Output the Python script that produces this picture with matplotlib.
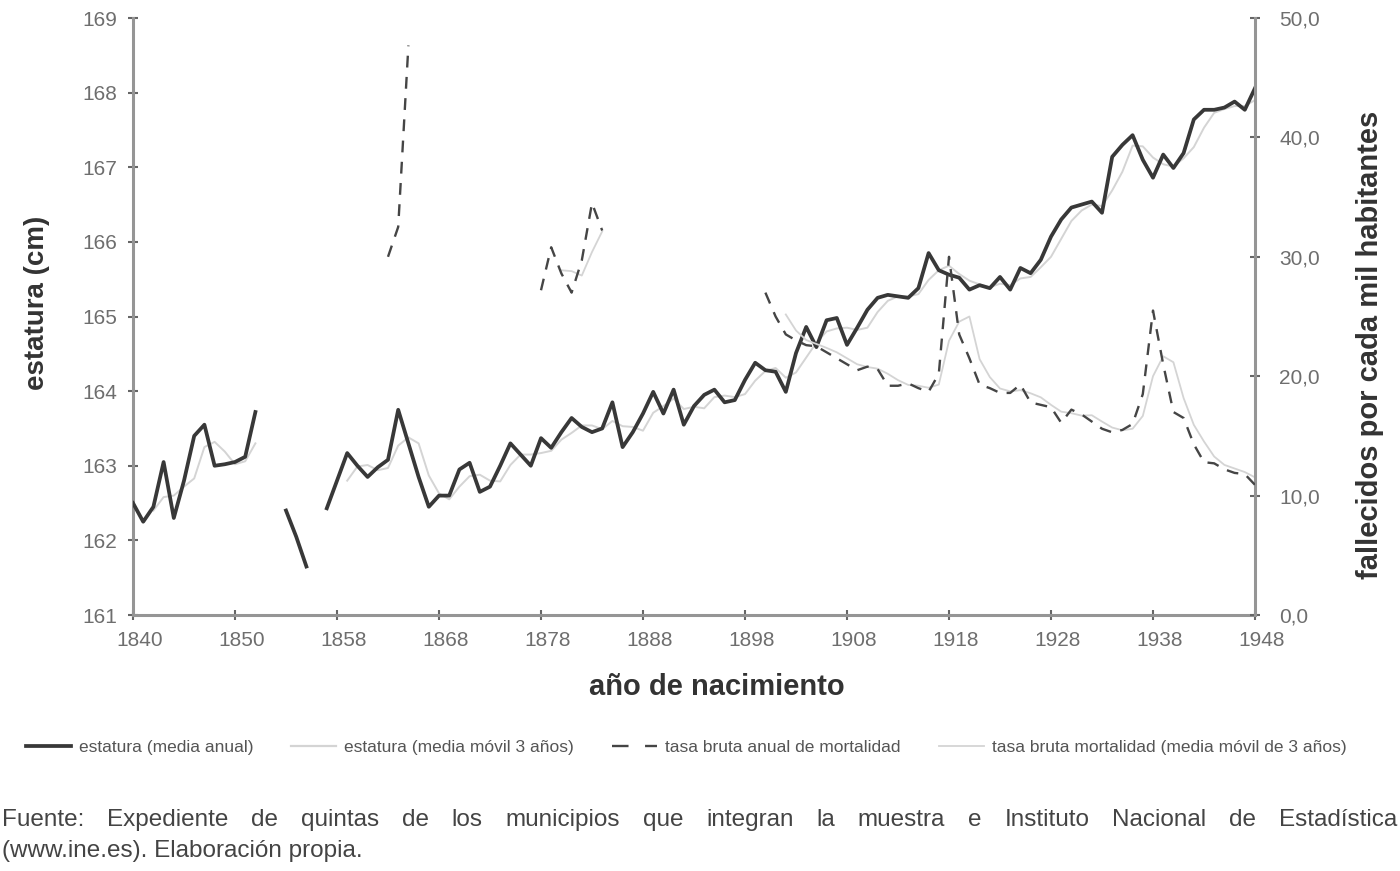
import numpy as np
import matplotlib
matplotlib.use("Agg")
from matplotlib import pyplot as plt
from matplotlib.lines import Line2D
import matplotlib.transforms as mtransforms

plt.rcParams['font.family'] = ['Liberation Sans', 'DejaVu Sans']

# eje x: una categoria por posicion, etiqueta cada 10 posiciones
x_labels = ['1840', '1850', '1858', '1868', '1878', '1888', '1898',
            '1908', '1918', '1928', '1938', '1948']
n_pos = 111

# estatura media anual (cm), tramos con huecos
est_1 = [162.5, 162.25, 162.45, 163.05, 162.3, 162.8, 163.4, 163.55, 163.0,
         163.02, 163.05, 163.12, 163.72]                      # pos 0-12
est_2 = [162.4, 162.05, 161.65]                                # pos 15-17
est_3 = [162.43, 162.8, 163.17, 163.0, 162.85, 162.98, 163.08, 163.75, 163.3,
         162.85, 162.45, 162.6, 162.6, 162.95, 163.04, 162.65, 162.72, 163.0,
         163.3, 163.15, 163.0, 163.37, 163.24, 163.45, 163.64, 163.52, 163.45,
         163.5, 163.85, 163.25, 163.45, 163.7, 163.99, 163.7, 164.02, 163.55,
         163.8, 163.95, 164.02, 163.85, 163.88, 164.15, 164.38, 164.28, 164.26,
         163.99, 164.51, 164.86, 164.59, 164.95, 164.98, 164.62, 164.85, 165.09,
         165.25, 165.29, 165.27, 165.25, 165.38, 165.85, 165.62, 165.56, 165.52,
         165.36, 165.42, 165.38, 165.53, 165.36, 165.65, 165.58, 165.76, 166.07,
         166.3, 166.46, 166.5, 166.54, 166.39, 167.14, 167.3, 167.43, 167.1,
         166.86, 167.17, 166.99, 167.19, 167.64, 167.77, 167.77, 167.8, 167.88,
         167.77, 168.06]                                        # pos 19-110

# estatura media movil 3 anos
mm_1 = [162.4, 162.58, 162.6, 162.72, 162.83, 163.25, 163.32, 163.19, 163.02,
        163.06, 163.3]                                          # pos 2-12
mm_3 = [162.8, 162.99, 163.01, 162.94, 162.97, 163.27, 163.38, 163.3, 162.87,
        162.63, 162.55, 162.72, 162.86, 162.88, 162.8, 162.79, 163.01, 163.15,
        163.15, 163.17, 163.2, 163.35, 163.44, 163.54, 163.54, 163.49, 163.6,
        163.53, 163.52, 163.47, 163.71, 163.8, 163.9, 163.76, 163.79, 163.77,
        163.92, 163.94, 163.92, 163.96, 164.14, 164.27, 164.31, 164.18, 164.25,
        164.45, 164.65, 164.8, 164.84, 164.85, 164.82, 164.85, 165.06, 165.21,
        165.27, 165.27, 165.3, 165.49, 165.62, 165.68, 165.57, 165.48, 165.43,
        165.39, 165.44, 165.42, 165.51, 165.53, 165.66, 165.8, 166.04, 166.28,
        166.42, 166.5, 166.48, 166.69, 166.94, 167.29, 167.28, 167.13, 167.04,
        167.01, 167.12, 167.27, 167.53, 167.73, 167.78, 167.82, 167.82,
        167.9]                                                  # pos 21-110

# tasa bruta anual de mortalidad (por mil)
mort_1 = [30.0, 32.5, 47.7]                                     # pos 25-27
mort_2 = [27.2, 30.8, 28.6, 27.0, 29.7, 34.5, 32.2]             # pos 40-46
mort_3 = [27.0, 25.0, 23.5, 23.0, 22.6, 22.5, 22.0, 21.5, 21.0, 20.5, 20.8,
          20.6, 19.2, 19.2, 19.4, 19.0, 18.7, 20.2, 30.0, 23.5, 21.5, 19.3,
          19.0, 18.6, 18.6, 19.3, 17.8, 17.6, 17.4, 16.1, 17.2, 16.8, 16.2,
          15.6, 15.3, 15.5, 16.0, 18.5, 25.5, 21.0, 17.0, 16.5, 14.3, 12.8,
          12.7, 12.2, 11.9, 11.8, 10.9]                         # pos 62-110

# tasa bruta mortalidad media movil 3 anos
mortmm_2 = [28.87, 28.8, 28.43, 30.4, 32.13]                    # pos 42-46
mortmm_3 = [25.17, 23.83, 23.03, 22.7, 22.37, 22.0, 21.5, 21.0, 20.77, 20.63,
            20.2, 19.67, 19.27, 19.2, 19.03, 19.3, 22.97, 24.57, 25.0, 21.43,
            19.93, 18.97, 18.73, 18.83, 18.57, 18.23, 17.6, 17.03, 16.9, 16.7,
            16.73, 16.2, 15.7, 15.47, 15.6, 16.67, 20.0, 21.67, 21.17, 18.17,
            15.93, 14.53, 13.27, 12.57, 12.27, 11.97, 11.53]    # pos 64-110


def serie(tramos):
    y = np.full(n_pos, np.nan)
    for start, vals in tramos:
        y[start:start + len(vals)] = vals
    return y


x = np.arange(n_pos)
estatura = serie([(0, est_1), (15, est_2), (19, est_3)])
estatura_mm = serie([(2, mm_1), (21, mm_3)])
mortalidad = serie([(25, mort_1), (40, mort_2), (62, mort_3)])
mortalidad_mm = serie([(42, mortmm_2), (64, mortmm_3)])

c_dark = '#383838'
c_light = '#d4d4d4'
c_axis = '#959595'
c_tick = '#6e6e6e'

fig = plt.figure(figsize=(14, 8.71), dpi=100)
ax = fig.add_axes([133 / 1400, 1 - 615 / 871, 1122 / 1400, 597 / 871])
ax2 = ax.twinx()

ax.plot(x, estatura_mm, color=c_light, lw=1.4, zorder=2)
ax.plot(x, estatura, color=c_dark, lw=2.7, zorder=3)
ax2.plot(x, mortalidad_mm, color=c_light, lw=1.3, zorder=2)
ax2.plot(x, mortalidad, color='#454545', lw=1.7, dashes=(5, 4), zorder=3)

ax.set_xlim(0, n_pos - 1)
ax.set_ylim(161, 169)
ax2.set_ylim(0, 50)
ax.set_xticks(np.arange(0, n_pos, 10))
ax.set_xticklabels(x_labels)
ax.set_yticks(range(161, 170))
ax2.set_yticks(range(0, 51, 10))
ax2.set_yticklabels([f'{v},0' for v in range(0, 51, 10)])

for a in (ax, ax2):
    a.spines['top'].set_visible(False)
    for s in ('left', 'right', 'bottom'):
        a.spines[s].set_color(c_axis)
        a.spines[s].set_linewidth(2.2)
    a.tick_params(direction='inout', length=7, width=1.5, color='#666666',
                  labelcolor=c_tick, labelsize=15)
ax.spines['right'].set_visible(False)
ax2.spines['left'].set_visible(False)
ax2.spines['bottom'].set_visible(False)
ax.tick_params(axis='y', pad=8)
ax.tick_params(axis='x', pad=8)
ax2.tick_params(axis='y', pad=14)

# desplazar etiquetas del eje x un poco a la derecha
shift = mtransforms.ScaledTranslation(7 / 100, 0, fig.dpi_scale_trans)
for lab in ax.get_xticklabels():
    lab.set_transform(lab.get_transform() + shift)

ax.set_xlabel('año de nacimiento', fontsize=21, fontweight='bold',
              color='#333333')
ax.xaxis.set_label_coords(0.52, -0.097)
ax.set_ylabel('estatura (cm)', fontsize=20, fontweight='bold',
              color='#333333')
ax.yaxis.set_label_coords(-0.074, 0.523)
ax2.set_ylabel('fallecidos por cada mil habitantes', fontsize=21,
               fontweight='bold', color='#333333')
ax2.yaxis.set_label_coords(1.09, 0.452)

handles = [
    Line2D([], [], color=c_dark, lw=2.7),
    Line2D([], [], color=c_light, lw=1.6),
    Line2D([], [], color='#454545', lw=1.7, dashes=(7, 7)),
    Line2D([], [], color=c_light, lw=1.3),
]
labels = ['estatura (media anual)', 'estatura (media móvil 3 años)',
          'tasa bruta anual de mortalidad',
          'tasa bruta mortalidad (media móvil de 3 años)']
fig.legend(handles, labels, loc='center', bbox_to_anchor=(0.49, 1 - 747 / 871),
           ncol=4, frameon=False, fontsize=12.5, handlelength=2.6,
           handletextpad=0.45, columnspacing=2.2, labelcolor='#555555')

# nota de fuente, primera linea justificada
fuente_1 = ('Fuente: Expediente de quintas de los municipios que integran la '
            'muestra e Instituto Nacional de Estadística')
fuente_2 = '(www.ine.es). Elaboración propia.'
words = fuente_1.split()
texts = [fig.text(0, 1 - 820 / 871, w, fontsize=17.5, color='#444444',
                  va='center', ha='left') for w in words]
renderer = fig.canvas.get_renderer()
widths = [t.get_window_extent(renderer).width for t in texts]
total_w = 1395
gap = (total_w - sum(widths)) / (len(words) - 1)
pos = 2
for t, w in zip(texts, widths):
    t.set_x(pos / 1400)
    pos += w + gap
fig.text(2 / 1400, 1 - 851 / 871, fuente_2, fontsize=17.5, color='#444444',
         va='center', ha='left')

fig.savefig('out.png', dpi=100)
